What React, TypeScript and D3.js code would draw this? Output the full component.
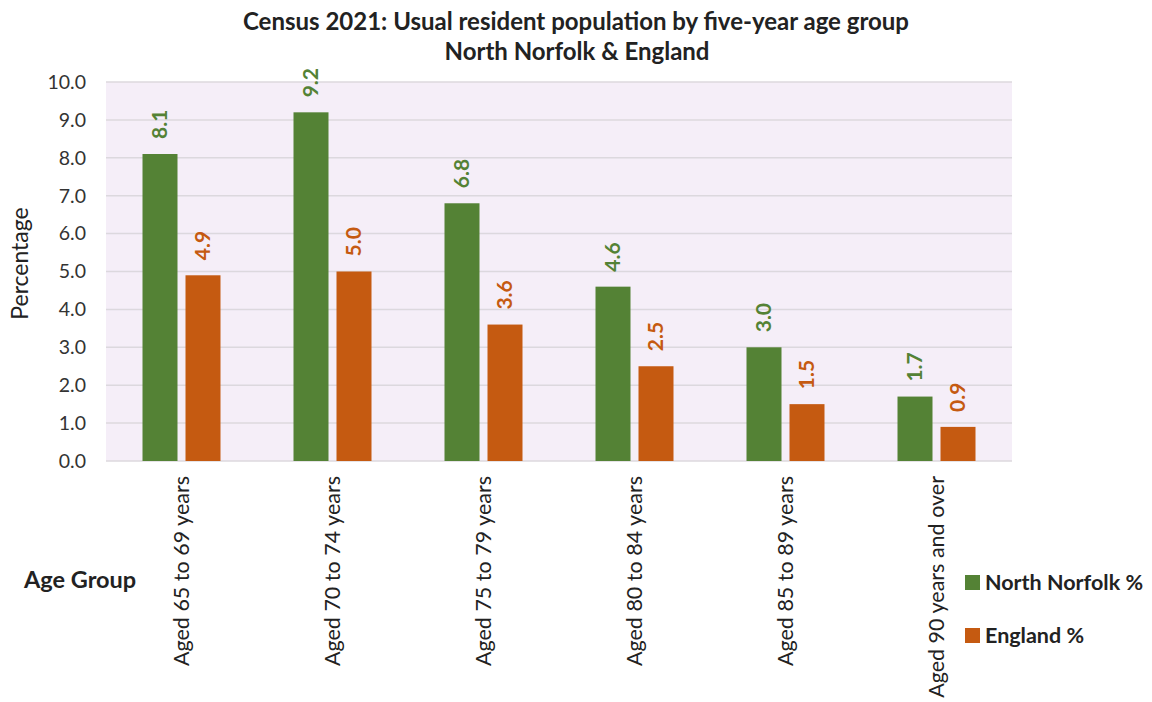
import React from "react";
import * as d3 from "d3";

const categories = [
  "Aged 65 to 69 years",
  "Aged 70 to 74 years",
  "Aged 75 to 79 years",
  "Aged 80 to 84 years",
  "Aged 85 to 89 years",
  "Aged 90 years and over",
];
const northNorfolk = [8.1, 9.2, 6.8, 4.6, 3.0, 1.7];
const england = [4.9, 5.0, 3.6, 2.5, 1.5, 0.9];
const seriesNames = ["North Norfolk %", "England %"];
const yTicks = [0, 1, 2, 3, 4, 5, 6, 7, 8, 9, 10];

const W = 1152;
const H = 702;
const left = 106;
const right = 1012;
const top = 82;
const bottom = 461;
const FONT = "Lato, 'Open Sans', sans-serif";
const GREEN = "#548235";
const ORANGE = "#c55a11";

export default function App() {
  const x = d3.scaleBand<string>().domain(categories).range([left, right]).padding(0);
  const y = d3.scaleLinear().domain([0, 10]).range([bottom, top]);
  const barW = 35;
  const gap = 8;
  const series = [
    { name: seriesNames[0], values: northNorfolk, color: GREEN, offset: -(gap / 2 + barW) },
    { name: seriesNames[1], values: england, color: ORANGE, offset: gap / 2 },
  ];
  return (
    <svg width={W} height={H} style={{ position: "absolute", left: 0, top: 0, background: "#fff" }}>
      <text x={576} y={30} textAnchor="middle" fontFamily={FONT} fontWeight={700} fontSize={24} fill="#222">
        Census 2021: Usual resident population by five-year age group
      </text>
      <text x={577} y={60} textAnchor="middle" fontFamily={FONT} fontWeight={700} fontSize={24} fill="#222">
        North Norfolk &amp; England
      </text>
      <rect x={left} y={top} width={right - left} height={bottom - top} fill="#f5eef8" />
      {yTicks.map((t) => (
        <g key={t}>
          <line x1={left} x2={right} y1={y(t)} y2={y(t)} stroke="#dcd8de" strokeWidth={1.5} />
          <text x={86} y={y(t)} dy="0.35em" textAnchor="end" fontFamily={FONT} fontSize={19.5} fill="#333">
            {t.toFixed(1)}
          </text>
        </g>
      ))}
      <text transform={`translate(28,${(top + bottom) / 2 - 8}) rotate(-90)`} textAnchor="middle" fontFamily={FONT} fontSize={23} fill="#222">
        Percentage
      </text>
      {series.map((s) =>
        categories.map((c, i) => {
          const cx = (x(c) as number) + x.bandwidth() / 2;
          const bx = cx + s.offset;
          const v = s.values[i];
          return (
            <g key={s.name + c}>
              <rect x={bx} y={y(v)} width={barW} height={y(0) - y(v)} fill={s.color} />
              <text
                transform={`translate(${bx + barW / 2},${y(v) - 15}) rotate(-90)`}
                dy="0.35em"
                textAnchor="start"
                fontFamily={FONT}
                fontWeight={700}
                fontSize={21}
                fill={s.color}
              >
                {v.toFixed(1)}
              </text>
            </g>
          );
        })
      )}
      {categories.map((c) => {
        const cx = (x(c) as number) + x.bandwidth() / 2;
        return (
          <text
            key={c}
            transform={`translate(${cx},476) rotate(-90)`}
            dy="0.35em"
            textAnchor="end"
            fontFamily={FONT}
            fontSize={21.5}
            fill="#222"
          >
            {c}
          </text>
        );
      })}
      <text x={24} y={588} fontFamily={FONT} fontWeight={700} fontSize={23.5} fill="#222">
        Age Group
      </text>
      {series.map((s, i) => (
        <g key={s.name}>
          <rect x={965} y={575 + i * 53} width={15} height={15} fill={s.color} />
          <text x={985} y={582 + i * 53} dy="0.35em" fontFamily={FONT} fontWeight={700} fontSize={21.5} fill="#222">
            {s.name}
          </text>
        </g>
      ))}
    </svg>
  );
}
